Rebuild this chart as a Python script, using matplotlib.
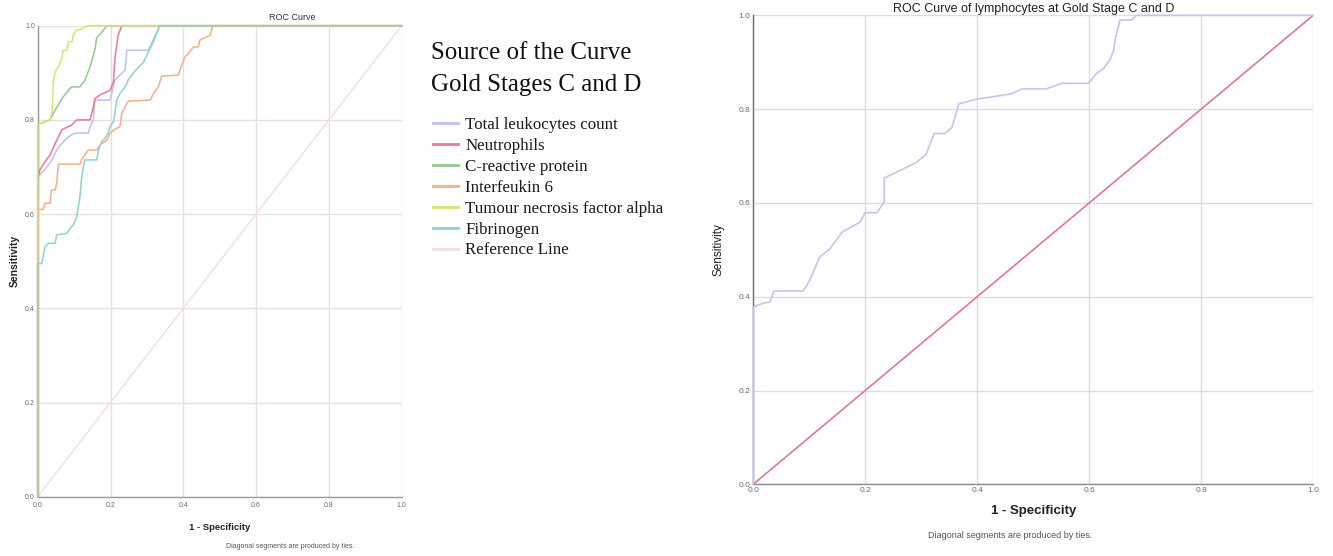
import matplotlib
matplotlib.use("Agg")
import matplotlib.pyplot as plt

plt.rcParams['font.family'] = ['Liberation Sans', 'DejaVu Sans']

# ---------------- data (left chart) ----------------
series_names = ["Total leukocytes count", "Neutrophils", "C-reactive protein",
                "Interfeukin 6", "Tumour necrosis factor alpha", "Fibrinogen"]
legend_title_lines = ["Source of the Curve", "Gold Stages C and D"]

tlc_x = [0, 0, 0.006, 0.025, 0.039, 0.052, 0.066, 0.084, 0.102, 0.139, 0.144, 0.153, 0.157,
         0.199, 0.212, 0.240, 0.245, 0.304, 0.313, 0.331, 0.336, 1.0]
tlc_y = [0, 0.683, 0.683, 0.700, 0.715, 0.736, 0.750, 0.764, 0.772, 0.772, 0.786, 0.800, 0.842,
         0.842, 0.885, 0.906, 0.948, 0.948, 0.963, 0.991, 1.0, 1.0]

neu_x = [0, 0, 0.006, 0.020, 0.034, 0.048, 0.057, 0.066, 0.093, 0.107, 0.144, 0.153, 0.157,
         0.171, 0.199, 0.208, 0.212, 0.221, 0.231, 1.0]
neu_y = [0, 0.672, 0.694, 0.711, 0.726, 0.750, 0.764, 0.779, 0.789, 0.800, 0.800, 0.828, 0.845,
         0.853, 0.863, 0.881, 0.931, 0.980, 1.0, 1.0]

crp_x = [0, 0, 0.034, 0.048, 0.070, 0.089, 0.093, 0.116, 0.130, 0.144, 0.158, 0.162, 0.176, 0.190, 1.0]
crp_y = [0, 0.790, 0.800, 0.821, 0.849, 0.867, 0.870, 0.870, 0.885, 0.913, 0.952, 0.975, 0.986, 1.0, 1.0]

il6_x = [0, 0, 0.015, 0.020, 0.034, 0.038, 0.048, 0.052, 0.057, 0.116, 0.120, 0.139, 0.162,
         0.171, 0.190, 0.199, 0.208, 0.226, 0.231, 0.240, 0.249, 0.309, 0.318, 0.331, 0.341,
         0.386, 0.396, 0.405, 0.418, 0.428, 0.441, 0.446, 0.474, 0.481, 1.0]
il6_y = [0, 0.610, 0.610, 0.623, 0.623, 0.651, 0.651, 0.665, 0.706, 0.706, 0.715, 0.736, 0.736,
         0.747, 0.757, 0.772, 0.778, 0.786, 0.814, 0.828, 0.840, 0.842, 0.856, 0.870, 0.893,
         0.895, 0.917, 0.934, 0.945, 0.955, 0.955, 0.970, 0.980, 1.0, 1.0]

tnf_x = [0, 0, 0.034, 0.040, 0.043, 0.048, 0.057, 0.066, 0.070, 0.080, 0.084, 0.094, 0.098,
         0.107, 0.121, 0.135, 1.0]
tnf_y = [0, 0.790, 0.800, 0.820, 0.878, 0.902, 0.913, 0.930, 0.948, 0.948, 0.966, 0.966, 0.980,
         0.991, 0.993, 1.0, 1.0]

fib_x = [0, 0, 0.011, 0.020, 0.029, 0.048, 0.052, 0.080, 0.089, 0.098, 0.107, 0.112, 0.116,
         0.121, 0.125, 0.129, 0.162, 0.167, 0.176, 0.185, 0.194, 0.199, 0.208, 0.212, 0.217,
         0.226, 0.240, 0.249, 0.263, 0.276, 0.290, 0.300, 0.309, 0.318, 0.327, 0.334, 1.0]
fib_y = [0, 0.495, 0.495, 0.531, 0.538, 0.538, 0.556, 0.559, 0.570, 0.577, 0.594, 0.616, 0.637,
         0.679, 0.700, 0.715, 0.715, 0.736, 0.754, 0.761, 0.772, 0.786, 0.796, 0.814, 0.842,
         0.856, 0.870, 0.885, 0.900, 0.911, 0.922, 0.938, 0.952, 0.966, 0.984, 1.0, 1.0]

ref_x = [0, 1]
ref_y = [0, 1]

# ---------------- data (right chart) ----------------
lym_x = [0, 0, 0.015, 0.030, 0.037, 0.089, 0.101, 0.119, 0.137, 0.159, 0.191, 0.200, 0.221,
         0.234, 0.234, 0.291, 0.309, 0.323, 0.342, 0.355, 0.367, 0.398, 0.459, 0.480, 0.523,
         0.551, 0.599, 0.612, 0.626, 0.637, 0.644, 0.646, 0.655, 0.676, 0.684, 1.0]
lym_y = [0, 0.378, 0.385, 0.389, 0.412, 0.412, 0.435, 0.485, 0.502, 0.538, 0.559, 0.579, 0.579,
         0.602, 0.653, 0.686, 0.704, 0.748, 0.748, 0.761, 0.811, 0.821, 0.832, 0.843, 0.843,
         0.855, 0.855, 0.875, 0.887, 0.905, 0.926, 0.947, 0.990, 0.990, 1.0, 1.0]

ticks = [0.0, 0.2, 0.4, 0.6, 0.8, 1.0]
tick_labels = ["0.0", "0.2", "0.4", "0.6", "0.8", "1.0"]

colors = ["#bcc2ea", "#ec7893", "#93c991", "#f4ae8c", "#d9e46e", "#8ed3cb"]
ref_color_left = "#f1dde1"

W, H = 1333, 556
fig = plt.figure(figsize=(W / 100, H / 100), dpi=100)


def style_axes(ax, grid_color, tick_size, spine_color):
    ax.set_xlim(0, 1)
    ax.set_ylim(0, 1)
    ax.set_xticks(ticks)
    ax.set_yticks(ticks)
    ax.set_xticklabels(tick_labels)
    ax.set_yticklabels(tick_labels)
    ax.tick_params(length=0, labelsize=tick_size, colors="#6a6a6a", pad=2)
    ax.grid(True, color=grid_color, linewidth=1.0)
    ax.set_axisbelow(True)
    for s in ["top", "right"]:
        ax.spines[s].set_visible(False)
    for s in ["left", "bottom"]:
        ax.spines[s].set_color(spine_color)
        ax.spines[s].set_linewidth(1.0)


# ---------------- left chart ----------------
axL = fig.add_axes([37.7 / W, 1 - 496.7 / H, 364 / W, 471 / H])
style_axes(axL, "#eadfe0", 5, "#9a9a9a")
axL.tick_params(axis="x", pad=4)
all_x = [tlc_x, neu_x, crp_x, il6_x, tnf_x, fib_x]
all_y = [tlc_y, neu_y, crp_y, il6_y, tnf_y, fib_y]
handles = []
for xs, ys, c, name in zip(all_x, all_y, colors, series_names):
    ln, = axL.plot(xs, ys, color=c, linewidth=1.1, label=name, clip_on=False, zorder=3)
    handles.append(ln)
ref_ln, = axL.plot(ref_x, ref_y, color=ref_color_left, linewidth=1.0, label="Reference Line", zorder=2)
handles.append(ref_ln)

fig.text(292 / W, 1 - 17 / H, "ROC Curve", ha="center", va="center", fontsize=6.5, color="#333333")
axL.set_xlabel("1 - Specificity", fontsize=6.8, fontweight="bold", color="#222222", labelpad=10)
axL.set_ylabel("Sensitivity", fontsize=7.5, fontweight="bold", color="#222222", labelpad=4)
fig.text(290 / W, 1 - 547 / H, "Diagonal segments are produced by ties.", ha="center", va="center",
         fontsize=5, color="#555555")

serif = ["Liberation Serif", "DejaVu Serif"]
for i, line in enumerate(legend_title_lines):
    fig.text(431 / W, 1 - (53 + 32 * i) / H, line, ha="left", va="center",
             fontsize=17.9, family=serif, color="#111111")

leg = fig.legend(handles=handles, labels=series_names + ["Reference Line"],
                 loc="upper left", bbox_to_anchor=(433 / W, 1 - 117 / H),
                 frameon=False,
                 prop={"family": serif, "size": 12.2},
                 handlelength=1.45, handletextpad=0.45, labelspacing=0.29, borderpad=0,
                 borderaxespad=0)
for t in leg.get_texts():
    t.set_color("#1a1a1a")
for h in leg.legend_handles:
    h.set_linewidth(2.0)

# ---------------- right chart ----------------
axR = fig.add_axes([753.2 / W, 1 - 484.3 / H, 560 / W, 469 / H])
style_axes(axR, "#dcdce2", 6, "#8a8a8a")
axR.spines["left"].set_color("#6a6a6a")
axR.plot(ref_x, ref_y, color="#e27890", linewidth=1.2, zorder=2)
axR.plot(lym_x, lym_y, color="#c3c6ec", linewidth=1.2, zorder=3, clip_on=False)
axR.set_title("ROC Curve of lymphocytes at Gold Stage C and D", fontsize=9, color="#222222", pad=2)
axR.set_xlabel("1 - Specificity", fontsize=9.5, fontweight="bold", color="#222222", labelpad=8)
axR.set_ylabel("Sensitivity", fontsize=8.5, color="#222222", labelpad=10)
fig.text(1010 / W, 1 - 536 / H, "Diagonal segments are produced by ties.", ha="center", va="center",
         fontsize=6.5, color="#555555")

fig.savefig("out.png", dpi=100, facecolor="white")
